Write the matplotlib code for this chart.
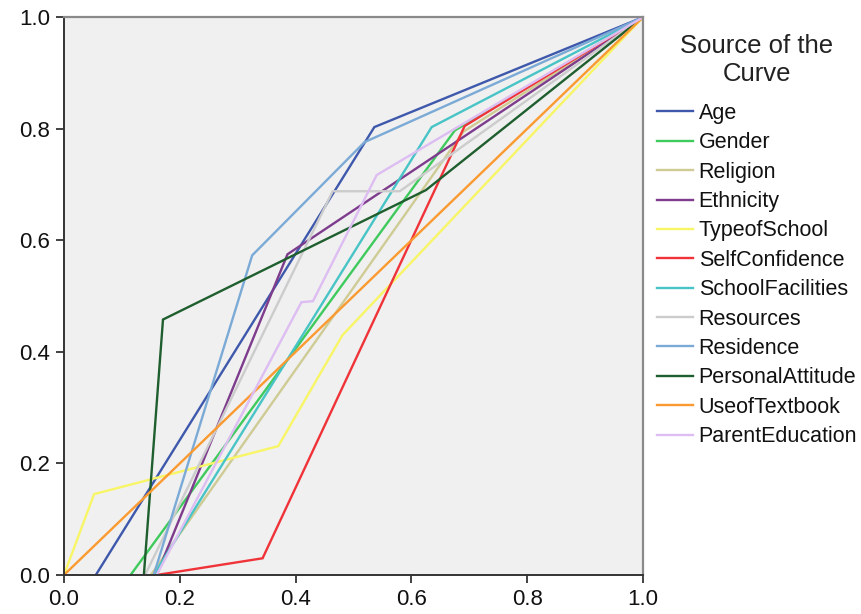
import matplotlib.pyplot as plt

plt.rcParams['font.family'] = ['Liberation Sans', 'DejaVu Sans']

# ROC curves (1 - specificity, sensitivity)
names = ['Age', 'Gender', 'Religion', 'Ethnicity', 'TypeofSchool', 'SelfConfidence',
         'SchoolFacilities', 'Resources', 'Residence', 'PersonalAttitude',
         'UseofTextbook', 'ParentEducation']

age_x = [0.055, 0.536, 1.0]
age_y = [0.0, 0.803, 1.0]
gender_x = [0.115, 0.675, 1.0]
gender_y = [0.0, 0.797, 1.0]
religion_x = [0.15, 0.69, 1.0]
religion_y = [0.0, 0.795, 1.0]
ethnicity_x = [0.16, 0.386, 1.0]
ethnicity_y = [0.0, 0.575, 1.0]
school_x = [0.0, 0.052, 0.370, 0.481, 1.0]
school_y = [0.0, 0.145, 0.231, 0.430, 1.0]
selfconf_x = [0.16, 0.343, 0.692, 1.0]
selfconf_y = [0.0, 0.030, 0.805, 1.0]
facilities_x = [0.155, 0.635, 1.0]
facilities_y = [0.0, 0.803, 1.0]
resources_x = [0.14, 0.464, 0.580, 1.0]
resources_y = [0.0, 0.688, 0.688, 1.0]
residence_x = [0.155, 0.325, 0.519, 1.0]
residence_y = [0.0, 0.573, 0.776, 1.0]
attitude_x = [0.138, 0.171, 0.625, 1.0]
attitude_y = [0.0, 0.458, 0.690, 1.0]
textbook_x = [0.0, 1.0]
textbook_y = [0.0, 1.0]
parent_x = [0.16, 0.41, 0.43, 0.54, 1.0]
parent_y = [0.0, 0.489, 0.491, 0.717, 1.0]

xs = [age_x, gender_x, religion_x, ethnicity_x, school_x, selfconf_x,
      facilities_x, resources_x, residence_x, attitude_x, textbook_x, parent_x]
ys = [age_y, gender_y, religion_y, ethnicity_y, school_y, selfconf_y,
      facilities_y, resources_y, residence_y, attitude_y, textbook_y, parent_y]

colors = ['#3E58AC', '#3ECA5C', '#CFCB94', '#7E3C8D', '#F8F566', '#EF3338',
          '#48C4C6', '#CCCCCC', '#7BAAD6', '#1F5E2E', '#FA9A30', '#DDBDF2']

fig = plt.figure(figsize=(8.62, 6.14), dpi=100)
ax = fig.add_axes([0.0742, 0.0635, 0.6718, 0.9085])
ax.set_facecolor('#F0F0F0')

for x, y, c, n in zip(xs, ys, colors, names):
    ax.plot(x, y, color=c, lw=1.7, label=n, solid_joinstyle='miter')

ax.set_xlim(0, 1)
ax.set_ylim(0, 1)
ticks = [0.0, 0.2, 0.4, 0.6, 0.8, 1.0]
ax.set_xticks(ticks)
ax.set_yticks(ticks)
ax.set_xticklabels(['%.1f' % t for t in ticks])
ax.set_yticklabels(['%.1f' % t for t in ticks])
ax.tick_params(labelsize=16, length=6, width=1.3, color='#333333', pad=4,
               labelcolor='#111111')

for s in ['left', 'bottom']:
    ax.spines[s].set_color('#333333')
    ax.spines[s].set_linewidth(1.4)
for s in ['top', 'right']:
    ax.spines[s].set_color('#8A8A8A')
    ax.spines[s].set_linewidth(1.6)

leg = fig.legend(*ax.get_legend_handles_labels(), loc='upper center',
                 bbox_to_anchor=(0.878, 0.958), frameon=False,
                 title='Source of the\nCurve', fontsize=15.5, title_fontsize=18.5,
                 handlelength=1.7, handletextpad=0.25, labelspacing=0.39,
                 borderaxespad=0.0)
leg._legend_box.align = 'center'
leg._legend_box.sep = 12
leg.get_title().set_multialignment('center')
leg.get_title().set_color('#222222')
for t in leg.get_texts():
    t.set_color('#111111')
for line in leg.get_lines():
    line.set_linewidth(1.7)

fig.savefig('out.png', dpi=100)
